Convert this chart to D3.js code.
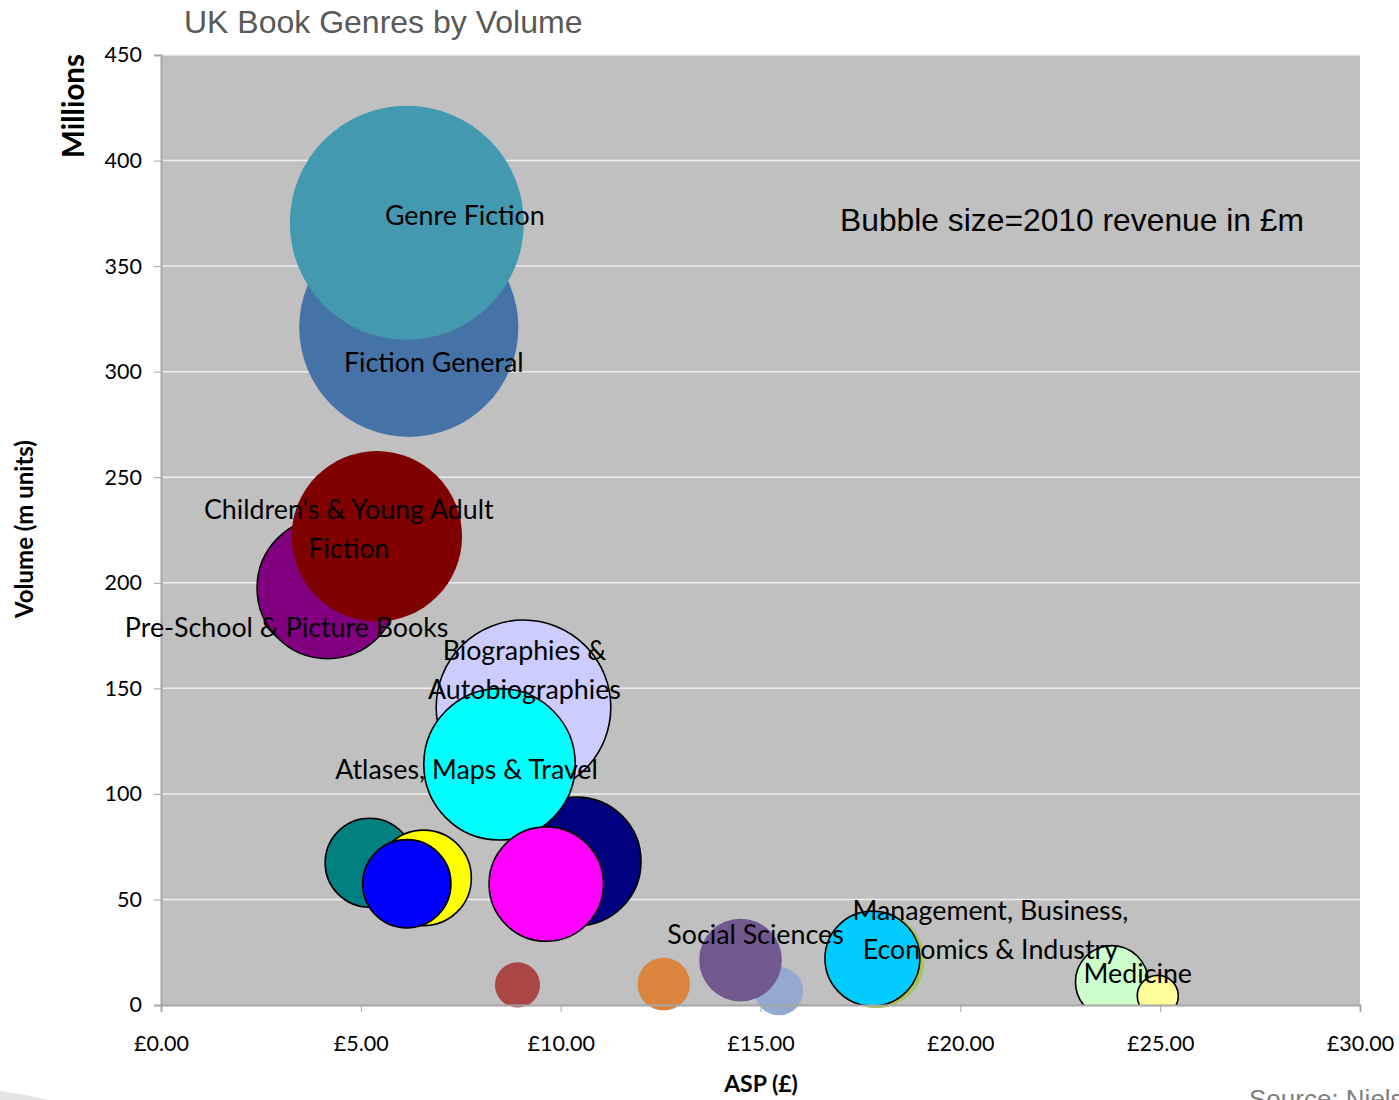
<!DOCTYPE html>
<html>
<head>
<meta charset="utf-8">
<script src="https://cdn.jsdelivr.net/npm/d3@7"></script>
<style>
  html, body { margin: 0; padding: 0; background: #ffffff; }
  svg { display: block; }
</style>
</head>
<body>
<svg id="chart" width="1399" height="1100"></svg>
<script>
// Genre bubbles, in drawing order (later ones sit on top).
// Empty strings are genres that carry no data label.
const genres = [
  "Fiction General",
  "Genre Fiction",
  "Pre-School & Picture Books",
  "Children's & Young Adult Fiction",
  "Biographies & Autobiographies",
  "",
  "Atlases, Maps & Travel",
  "",
  "",
  "",
  "",
  "",
  "",
  "",
  "Social Sciences",
  "",
  "Management, Business, Economics & Industry",
  "Medicine",
  ""
];

// Average selling price (£)
const asp = [6.20, 6.15, 4.17, 5.40, 9.07, 10.40, 8.47, 9.64, 5.22, 6.57, 6.15, 8.92, 12.58, 15.46, 14.50, 17.90, 17.80, 23.79, 24.94];

// Volume (millions of units)
const volume = [321, 370.5, 197.5, 222, 141, 68, 114, 57.3, 67.4, 60.2, 57.4, 9.5, 9.9, 6.6, 21.3, 21.3, 22, 10.9, 4.3];

// 2010 revenue (£m) – sets bubble area
const revenue = [2000, 2280, 830, 1210, 1270, 690, 955, 545, 330, 380, 325, 85, 115, 98, 285, 385, 375, 220, 70];

// Axis ticks
const yTicks = [0, 50, 100, 150, 200, 250, 300, 350, 400, 450];
const xTicks = [0, 5, 10, 15, 20, 25, 30];

// Fill colours per bubble, and whether it carries a black outline
const fills = ["#4572A7", "#4399B0", "#800080", "#800000", "#CCCCFF", "#000080", "#00FFFF", "#FF00FF",
               "#008080", "#FFFF00", "#0000FF", "#AA4643", "#DB843D", "#93A9CF", "#71588F", "#A5C65A",
               "#00CCFF", "#CCFFCC", "#FFFF99"];
const outlined = [false, false, true, false, true, true, true, true,
                  true, true, true, false, false, false, false, false,
                  true, true, true];

// Label placement (pixel offset of the label centre from its bubble centre)
const labelOffsets = {
  "Genre Fiction": [58, -8],
  "Fiction General": [25, 35],
  "Children's & Young Adult Fiction": [-28, -8],
  "Pre-School & Picture Books": [-41, 39],
  "Biographies & Autobiographies": [1, -38],
  "Atlases, Maps & Travel": [-33, 5],
  "Social Sciences": [15, -26],
  "Management, Business, Economics & Industry": [118, -29],
  "Medicine": [26, -9]
};
const labelLines = {
  "Children's & Young Adult Fiction": ["Children's & Young Adult", "Fiction"],
  "Biographies & Autobiographies": ["Biographies &", "Autobiographies"],
  "Management, Business, Economics & Industry": ["Management, Business,", "Economics & Industry"]
};

const svg = d3.select("#chart");
const plot = { left: 161, right: 1360, top: 55, bottom: 1005 };

const x = d3.scaleLinear().domain([0, 30]).range([plot.left, plot.right]);
const y = d3.scaleLinear().domain([0, 450]).range([plot.bottom, plot.top]);
const r = d3.scaleSqrt().domain([0, d3.max(revenue)]).range([0, 117]);

const labelFont = "Lato, 'Open Sans', sans-serif";
const arialFont = "'Liberation Sans', Arial, sans-serif";

// Plot area background
svg.append("rect")
  .attr("x", plot.left).attr("y", plot.top)
  .attr("width", plot.right - plot.left).attr("height", plot.bottom - plot.top)
  .attr("fill", "#C0C0C0");

// Horizontal gridlines
svg.append("g")
  .selectAll("line")
  .data(yTicks.filter(t => t > 0))
  .join("line")
  .attr("x1", plot.left).attr("x2", plot.right)
  .attr("y1", d => y(d)).attr("y2", d => y(d))
  .attr("stroke", "#EEEEEE").attr("stroke-width", 1.5);

svg.append("clipPath").attr("id", "plotClip")
  .append("rect")
  .attr("x", plot.left).attr("y", plot.top)
  .attr("width", plot.right - plot.left).attr("height", plot.bottom - plot.top);

// Bubbles
const rows = genres.map((g, i) => ({ g, i, asp: asp[i], vol: volume[i], rev: revenue[i] }));
svg.append("g")
  .selectAll("circle")
  .data(rows)
  .join("circle")
  .attr("cx", d => x(d.asp))
  .attr("cy", d => y(d.vol))
  .attr("r", d => r(d.rev))
  .attr("fill", d => fills[d.i])
  .attr("stroke", d => outlined[d.i] ? "#000" : "none")
  .attr("stroke-width", 1.6)
  .attr("clip-path", d => outlined[d.i] ? "url(#plotClip)" : null);

// Axes
const yAxis = svg.append("g")
  .attr("transform", `translate(${plot.left},0)`)
  .call(d3.axisLeft(y).tickValues(yTicks).tickSize(7).tickPadding(12).tickFormat(d3.format("d")));
const xAxis = svg.append("g")
  .attr("transform", `translate(0,${plot.bottom})`)
  .call(d3.axisBottom(x).tickValues(xTicks).tickSize(7).tickPadding(24).tickFormat(d => "£" + d3.format(".2f")(d)));

[yAxis, xAxis].forEach(a => {
  a.select(".domain").attr("stroke", "#A6A6A6").attr("stroke-width", 2);
  a.selectAll(".tick line").attr("stroke", "#A6A6A6").attr("stroke-width", 1);
  a.selectAll(".tick text").attr("fill", "#000").style("font-family", labelFont).style("font-size", "21.5px");
});

// Data labels
const labelled = rows.filter(d => d.g !== "");
const lab = svg.append("g")
  .style("font-family", labelFont).style("font-size", "26.8px").attr("fill", "#000");
labelled.forEach(d => {
  const [dx, dy] = labelOffsets[d.g];
  const lines = labelLines[d.g] || [d.g];
  const cx = x(d.asp) + dx, cy = y(d.vol) + dy;
  const lh = 39;
  lines.forEach((t, k) => {
    lab.append("text")
      .attr("x", cx)
      .attr("y", cy + (k - (lines.length - 1) / 2) * lh)
      .attr("text-anchor", "middle")
      .attr("dominant-baseline", "central")
      .text(t);
  });
});

// Titles and notes
svg.append("text")
  .attr("x", 184).attr("y", 33)
  .style("font-family", arialFont).style("font-size", "32px")
  .attr("fill", "#595959")
  .text("UK Book Genres by Volume");

svg.append("text")
  .attr("x", 840).attr("y", 231)
  .style("font-family", arialFont).style("font-size", "31.8px")
  .attr("fill", "#000")
  .text("Bubble size=2010 revenue in £m");

svg.append("text")
  .attr("x", 761).attr("y", 1092)
  .attr("text-anchor", "middle")
  .style("font-family", labelFont).style("font-size", "23px").style("font-weight", "bold")
  .text("ASP (£)");

svg.append("text")
  .attr("transform", "translate(33,529) rotate(-90)")
  .attr("text-anchor", "middle")
  .style("font-family", labelFont).style("font-size", "24px").style("font-weight", "bold")
  .text("Volume (m units)");

svg.append("text")
  .attr("transform", "translate(84,106) rotate(-90)")
  .attr("text-anchor", "middle")
  .style("font-family", labelFont).style("font-size", "29.5px").style("font-weight", "bold")
  .text("Millions");

svg.append("text")
  .attr("x", 1249).attr("y", 1108)
  .style("font-family", arialFont).style("font-size", "26px")
  .attr("fill", "#7F7F7F")
  .text("Source: Nielsen BookScan");

// Slide decoration in the lower-left corner
svg.append("path")
  .attr("d", "M0,1091 Q24,1094 48,1100 L0,1100 Z")
  .attr("fill", "#E4E4E4");
</script>
</body>
</html>
